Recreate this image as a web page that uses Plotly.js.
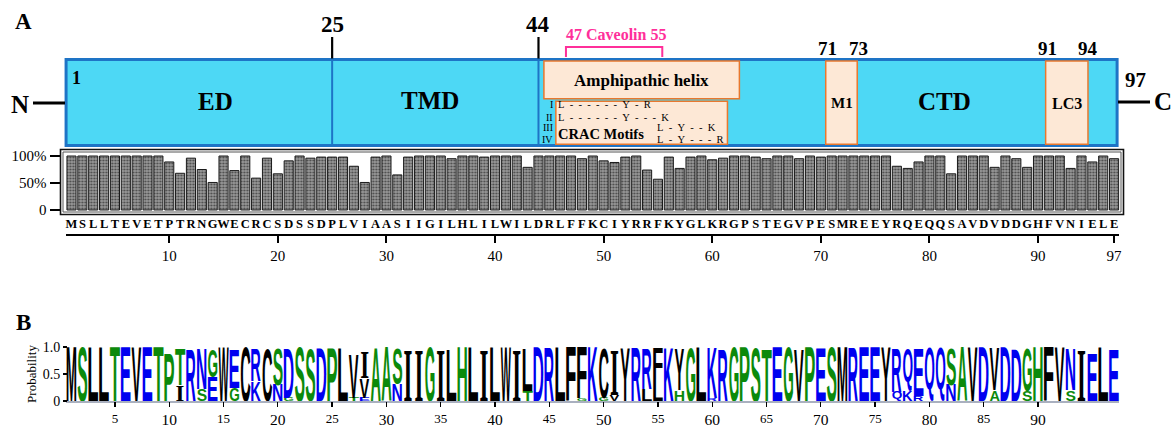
<!DOCTYPE html>
<html><head><meta charset="utf-8">
<script src="https://cdn.plot.ly/plotly-3.0.1.min.js"></script>
<style>html,body{margin:0;padding:0;background:#fff}#chart{width:1174px;height:428px}</style>
</head><body><div id="chart"></div>
<script>
// ---------------- DATA ----------------
const sequence = "MSLLTEVETPTRNGWECRCSDSSDPLVIAASIIGILHLILWILDRLFFKCIYRRFKYGLKRGPSTEGVPESMREEYRQEQQSAVDVDDGHFVNIELE".split('');
const positions = sequence.map((_, i) => i + 1);
const conservation = [
  100,100,100,100,100,100,100,100,100,89,
  68,96,75,51,100,73,100,59,96,67,
  91,100,96,98,98,98,81,51,98,100,
  65,98,100,100,100,95,100,100,98,100,
  100,100,79,100,100,100,100,95,100,91,
  88,98,100,74,57,98,77,98,100,93,
  96,100,100,98,95,100,100,95,100,98,
  100,100,100,100,100,100,81,77,89,100,
  100,67,100,100,100,79,100,95,79,100,
  100,100,77,100,89,100,95
];
const barTicks = [10,20,30,40,50,60,70,80,90,97];
const logoMajorTicks = [10,20,30,40,50,60,70,80,90];
const logoAllTicks = [5,10,15,20,25,30,35,40,45,50,55,60,65,70,75,80,85,90];
// secondary residues in the logo (position, letter, probability)
const altPos    = [11, 13, 14, 16, 18, 20, 21, 27, 28, 28, 31, 43, 48, 50, 51, 54, 55, 57, 60, 77, 78, 79, 82, 86, 89, 93];
const altLetter = ['I','S','E','G','K','N','G','T','E','V','N','T','G','G','V','L','L','H','R','Q','K','R','N','A','S','S'];
const altProb   = [0.30,0.22,0.45,0.25,0.37,0.30,0.06,0.06,0.06,0.36,0.32,0.18,0.05,0.06,0.11,0.22,0.40,0.20,0.05,0.17,0.20,0.10,0.30,0.20,0.18,0.20];
// protein architecture (residue coordinates)
const boundaryPositions = [25, 44];
const boundaryLabels = ['25', '44'];
const proteinStart = 0.5, proteinEnd = 97.28;
const motifStart = [44.5, 45.6, 70.45, 90.7];
const motifEnd   = [62.5, 61.4, 73.35, 94.6];
const caveolinStart = 46.53, caveolinEnd = 55.4;
const cracMotifs = ['L------Y-R', 'L------Y---K', 'L-Y--K', 'L-Y---R'];

// ---------------- LAYOUT HELPERS ----------------
const W = 1174, H = 428;
const SERIF = '"Liberation Serif", "Times New Roman", Times, serif';
const SANS = '"Liberation Sans", Arial, sans-serif';
const LOGO_FS = 20;
const colW = 10.86, x1px = 71.5;
const r2px = r => x1px + (r - 1) * colW;
const PX = v => v / W, PY = v => 1 - v / H;
const BLACK = '#000000', GREEN = '#0b8a0b', BLUE = '#0000f0';
const NB = '\u00A0';
const spaced = s => s.split('').join(NB + NB);
function aaColor(a) {
  if ('MLVIWFCY'.indexOf(a) >= 0) return BLACK;
  if ('STGPHA'.indexOf(a) >= 0) return GREEN;
  return BLUE;
}

// build logo stacks
const logoX = [], logoY = [], logoH = [], logoText = [], logoColor = [];
positions.forEach((p, i) => {
  let base = 0;
  const alts = [];
  altPos.forEach((ap, k) => { if (ap === p) alts.push(k); });
  alts.sort((a, b) => altProb[a] - altProb[b]);
  alts.forEach(k => {
    logoX.push(p); logoY.push(base); logoH.push(altProb[k]); logoText.push(altLetter[k]); logoColor.push(aaColor(altLetter[k]));
    base += altProb[k];
  });
  const h = conservation[i] / 100;
  logoX.push(p); logoY.push(base); logoH.push(h); logoText.push(sequence[i]); logoColor.push(aaColor(sequence[i]));
});

// ---------------- TRACES ----------------
const traces = [
  {type: 'bar', x: positions, y: conservation, xaxis: 'x', yaxis: 'y', width: 0.84,
   marker: {color: '#8c8c8c', line: {color: '#1a1a1a', width: 1},
            pattern: {shape: '.', size: 3, solidity: 0.4, fgcolor: '#4a4a4a', bgcolor: '#9a9a9a'}},
   hoverinfo: 'skip'},
  {type: 'scatter', x: [], y: [], xaxis: 'x3', yaxis: 'y', hoverinfo: 'skip'},
  {type: 'scatter', mode: 'text', name: 'logo', x: logoX, y: logoY, text: logoText,
   textposition: 'top center', cliponaxis: false,
   textfont: {family: SANS, size: LOGO_FS, weight: 'bold', color: logoColor},
   xaxis: 'x2', yaxis: 'y2', hoverinfo: 'skip'},
  {type: 'scatter', x: [], y: [], xaxis: 'x4', yaxis: 'y2', hoverinfo: 'skip'}
];

// ---------------- SHAPES ----------------
const shapes = [];
const boxTop = 59.5, boxBot = 145.5;
shapes.push({type: 'rect', xref: 'x', yref: 'paper', x0: proteinStart, x1: proteinEnd, y0: PY(boxBot), y1: PY(boxTop),
  fillcolor: '#4dd8f5', line: {color: '#1e74c6', width: 3}});
boundaryPositions.forEach(b => {
  shapes.push({type: 'line', xref: 'x', yref: 'paper', x0: b, x1: b, y0: PY(boxBot), y1: PY(boxTop), line: {color: '#1e74c6', width: 2}});
  shapes.push({type: 'line', xref: 'x', yref: 'paper', x0: b, x1: b, y0: PY(boxTop - 1), y1: PY(37), line: {color: '#000', width: 2.2}});
});
const motifTop = [61, 101.3, 61, 61], motifBot = [98.7, 144.3, 144.3, 144.3];
motifStart.forEach((s, i) => {
  shapes.push({type: 'rect', xref: 'x', yref: 'paper', x0: s, x1: motifEnd[i], y0: PY(motifBot[i]), y1: PY(motifTop[i]),
    fillcolor: '#fde8d6', line: {color: '#e8782e', width: 1.5}});
});
shapes.push({type: 'path', xref: 'x', yref: 'paper',
  path: `M ${caveolinStart},${PY(57)} L ${caveolinStart},${PY(47)} L ${caveolinEnd},${PY(47)} L ${caveolinEnd},${PY(57)}`,
  line: {color: '#ff2f9a', width: 2}});
// N and C termini
shapes.push({type: 'line', xref: 'paper', yref: 'paper', x0: PX(33), x1: PX(65), y0: PY(103), y1: PY(103), line: {color: '#000', width: 3}});
shapes.push({type: 'line', xref: 'paper', yref: 'paper', x0: PX(1118), x1: PX(1150), y0: PY(102), y1: PY(102), line: {color: '#000', width: 3}});
// bar chart frame (double line)
shapes.push({type: 'rect', xref: 'paper', yref: 'paper', x0: PX(60.5), x1: PX(1123.5), y0: PY(214.5), y1: PY(149.5), line: {color: '#111', width: 1.6}});
shapes.push({type: 'rect', xref: 'paper', yref: 'paper', x0: PX(63), x1: PX(1121), y0: PY(212), y1: PY(152), line: {color: '#555', width: 1}});

// ---------------- ANNOTATIONS ----------------
const ann = [];
function T(text, x, y, size, o) {
  o = o || {};
  ann.push({text: text, x: o.xref === 'x' ? x : PX(x), y: PY(y), xref: o.xref || 'paper', yref: 'paper', showarrow: false,
    xanchor: o.xanchor || 'center', yanchor: 'middle', borderpad: 0,
    font: {family: SERIF, size: size, color: o.color || '#000', weight: o.bold === false ? 'normal' : 'bold'}});
}
T('A', 23, 22, 23);
T('B', 23, 322, 23);
boundaryPositions.forEach((b, i) => T(boundaryLabels[i], b, 24, 23, {xref: 'x'}));
T('71', 827, 48, 19); T('73', 858, 48, 19);
T('91', 1047, 48, 19); T('94', 1088, 48, 19);
T('97', 1135, 80, 21);
T('N', 20, 104, 25); T('C', 1163, 102, 25);
T('1', 76, 78, 18);
T('ED', 215, 102, 25); T('TMD', 430, 100, 25); T('CTD', 944, 102, 25);
T('Amphipathic helix', 641, 80, 17);
T('47 Caveolin 55', 616, 35, 16, {color: '#ff2f9a'});
T('M1', 842, 103, 15); T('LC3', 1067, 103, 16);
T('I', 554, 105, 10, {bold: false, xanchor: 'right'});
T('II', 554, 117, 10, {bold: false, xanchor: 'right'});
T('III', 554, 127, 10, {bold: false, xanchor: 'right'});
T('IV', 554, 139, 10, {bold: false, xanchor: 'right'});
T(spaced(cracMotifs[0]), 557, 105, 10.5, {bold: false, xanchor: 'left'});
T(spaced(cracMotifs[1]), 557, 117, 10.5, {bold: false, xanchor: 'left'});
T('CRAC Motifs', 557, 133.5, 14.5, {xanchor: 'left'});
T(spaced(cracMotifs[2]), 656, 127.5, 10.5, {bold: false, xanchor: 'left'});
T(spaced(cracMotifs[3]), 656, 139.5, 10.5, {bold: false, xanchor: 'left'});

// ---------------- AXES ----------------
const barRange = [0.2, 97.8];
const barDomain = [PX(r2px(barRange[0])), PX(r2px(barRange[1]))];
const logoRange = [0.5, 97.5];
const logoDomain = [PX(r2px(logoRange[0])), PX(r2px(logoRange[1]))];
// bar y: 0 at 210px, 100 at 156px, domain 150..214
const perPx = 100 / (210 - 156);
const barYRange = [-(214 - 210) * perPx, 100 + (156 - 150) * perPx];

const layout = {
  width: W, height: H, margin: {l: 0, r: 0, t: 0, b: 0},
  paper_bgcolor: '#ffffff', plot_bgcolor: 'rgba(0,0,0,0)', showlegend: false,
  font: {family: SERIF, color: '#000'},
  xaxis: {domain: barDomain, range: barRange, anchor: 'y', showgrid: false, zeroline: false, showline: false,
    tickmode: 'array', tickvals: positions, ticktext: sequence, tickangle: 0, ticks: '',
    tickfont: {family: SERIF, size: 12.5, weight: 'bold'}},
  yaxis: {domain: [PY(214), PY(150)], range: barYRange, anchor: 'free', position: PX(60.5),
    showgrid: false, zeroline: false, showline: false,
    tickmode: 'array', tickvals: [0, 50, 100], ticktext: ['0', '50%', '100%'],
    ticks: 'outside', ticklen: 11, tickwidth: 1.5, tickcolor: '#000', tickfont: {family: SERIF, size: 15}},
  xaxis3: {domain: logoDomain, range: logoRange, anchor: 'free', position: PY(234.5),
    showgrid: false, zeroline: false, showline: true, linewidth: 2, linecolor: '#000',
    tickmode: 'array', tickvals: barTicks, ticks: 'outside', ticklen: 7, tickwidth: 2, tickcolor: '#000',
    tickfont: {family: SERIF, size: 15}},
  xaxis2: {domain: logoDomain, range: logoRange, anchor: 'y2', showgrid: false, zeroline: false,
    showline: true, linewidth: 1.5, linecolor: '#a9b0bf',
    tickmode: 'array', tickvals: logoMajorTicks, ticks: '',
    ticklabelstandoff: 4, tickfont: {family: SERIF, size: 15.5}},
  xaxis4: {overlaying: 'x2', anchor: 'y2', range: logoRange, showgrid: false, zeroline: false, showline: false,
    tickmode: 'array', tickvals: logoAllTicks, ticktext: logoAllTicks.map(v => v % 10 === 0 ? '' : String(v)),
    ticks: 'outside', ticklen: 5, tickwidth: 1.3, tickcolor: '#000',
    tickfont: {family: SERIF, size: 13}},
  yaxis2: {domain: [PY(401), PY(347)], range: [0, 1], anchor: 'free', position: PX(67),
    showgrid: false, zeroline: false, showline: false,
    tickmode: 'array', tickvals: [0, 0.5, 1], ticktext: ['0', '0.5', '1.0'],
    ticks: 'outside', ticklen: 4, tickwidth: 1.3, tickcolor: '#000', tickfont: {family: SERIF, size: 14},
    title: {text: 'Probability', font: {family: SERIF, size: 13}, standoff: 2}},
  shapes: shapes,
  annotations: ann
};

function stretchLogo(gd) {
  const fl = gd._fullLayout;
  const xa = fl.xaxis2, ya = fl.yaxis2;
  const ctx = document.createElement('canvas').getContext('2d');
  gd.querySelectorAll('.scatterlayer .trace').forEach(tr => {
    const cd = tr.__data__;
    const t = cd && cd[0] && cd[0].trace;
    if (!t || t.name !== 'logo') return;
    tr.querySelectorAll('g.textpoint').forEach((g, k) => {
      const d = g.__data__;
      const i = (d && typeof d.i === 'number') ? d.i : k;
      const txt = g.querySelector('text');
      if (!txt) return;
      const serif = logoText[i] === 'I';
      const fam = serif ? SERIF : SANS;
      ctx.font = 'bold ' + LOGO_FS + 'px ' + fam;
      if (serif) txt.style.fontFamily = fam;
      const m = ctx.measureText(logoText[i]);
      const L = -m.actualBoundingBoxLeft, R = m.actualBoundingBoxRight;
      const Tp = -m.actualBoundingBoxAscent, B = m.actualBoundingBoxDescent;
      const half = serif ? 0.42 : 0.47;
      const X0 = xa.l2p(logoX[i] - half), X1 = xa.l2p(logoX[i] + half);
      const Yb = ya.l2p(logoY[i]), Yt = ya.l2p(logoY[i] + logoH[i]);
      const sx = (X1 - X0) / (R - L), sy = (Yb - Yt) / (B - Tp);
      g.removeAttribute('transform');
      txt.setAttribute('x', 0); txt.setAttribute('y', 0);
      txt.setAttribute('text-anchor', 'start'); txt.removeAttribute('dy');
      txt.querySelectorAll('tspan').forEach(s => { s.setAttribute('x', 0); s.setAttribute('y', 0); s.removeAttribute('dy'); });
      txt.setAttribute('transform', `matrix(${sx},0,0,${sy},${X0 - sx * L},${Yt - sy * Tp})`);
    });
  });
}

const gd = document.getElementById('chart');
Plotly.newPlot(gd, traces, layout, {staticPlot: true, displayModeBar: false}).then(() => stretchLogo(gd));
</script>
</body></html>
